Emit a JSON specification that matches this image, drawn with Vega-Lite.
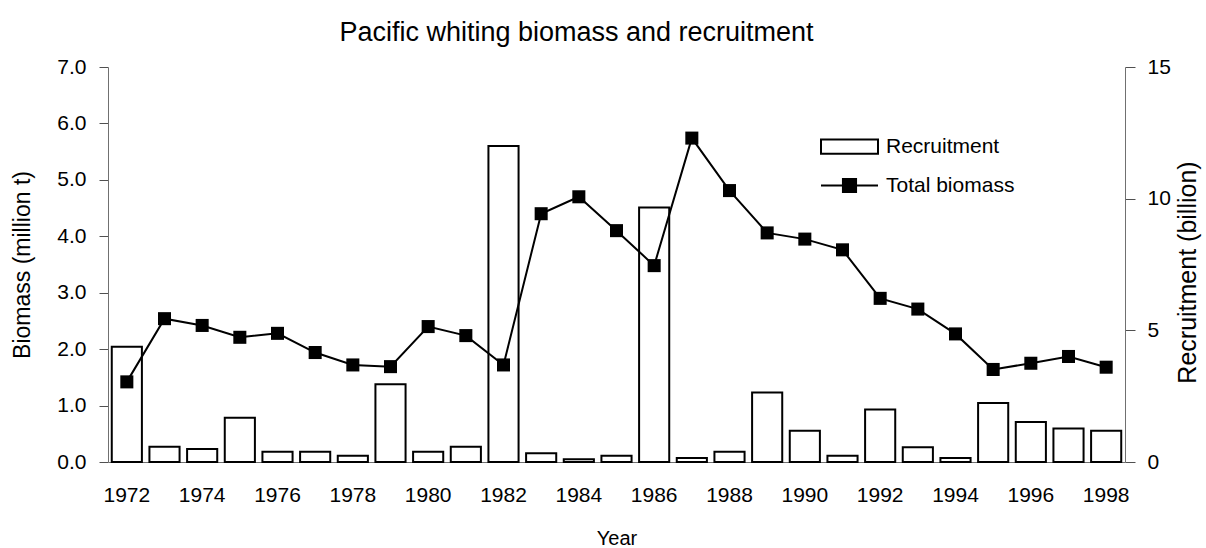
{
  "$schema": "https://vega.github.io/schema/vega-lite/v6.json",
  "autosize": "none",
  "padding": {"left": 108, "top": 67, "right": 81, "bottom": 86},
  "width": 1017,
  "height": 395,
  "background": "white",
  "title": {
    "text": "Pacific whiting biomass and recruitment",
    "font": "Liberation Sans",
    "fontSize": 27,
    "fontWeight": "normal",
    "color": "black",
    "anchor": "middle",
    "dx": -40,
    "offset": 9
  },
  "data": {
    "values": [
      {"year": 1972, "biomass": 1.42, "recruitment": 4.38},
      {"year": 1973, "biomass": 2.54, "recruitment": 0.58},
      {"year": 1974, "biomass": 2.42, "recruitment": 0.49},
      {"year": 1975, "biomass": 2.21, "recruitment": 1.68},
      {"year": 1976, "biomass": 2.28, "recruitment": 0.39},
      {"year": 1977, "biomass": 1.94, "recruitment": 0.39},
      {"year": 1978, "biomass": 1.72, "recruitment": 0.24},
      {"year": 1979, "biomass": 1.69, "recruitment": 2.95},
      {"year": 1980, "biomass": 2.40, "recruitment": 0.39},
      {"year": 1981, "biomass": 2.24, "recruitment": 0.58},
      {"year": 1982, "biomass": 1.72, "recruitment": 12.0},
      {"year": 1983, "biomass": 4.40, "recruitment": 0.33},
      {"year": 1984, "biomass": 4.70, "recruitment": 0.1},
      {"year": 1985, "biomass": 4.10, "recruitment": 0.24},
      {"year": 1986, "biomass": 3.48, "recruitment": 9.66},
      {"year": 1987, "biomass": 5.74, "recruitment": 0.15},
      {"year": 1988, "biomass": 4.81, "recruitment": 0.39},
      {"year": 1989, "biomass": 4.06, "recruitment": 2.64},
      {"year": 1990, "biomass": 3.95, "recruitment": 1.19},
      {"year": 1991, "biomass": 3.76, "recruitment": 0.24},
      {"year": 1992, "biomass": 2.90, "recruitment": 1.99},
      {"year": 1993, "biomass": 2.71, "recruitment": 0.56},
      {"year": 1994, "biomass": 2.27, "recruitment": 0.15},
      {"year": 1995, "biomass": 1.64, "recruitment": 2.24},
      {"year": 1996, "biomass": 1.75, "recruitment": 1.52},
      {"year": 1997, "biomass": 1.87, "recruitment": 1.27},
      {"year": 1998, "biomass": 1.68, "recruitment": 1.19}
    ]
  },
  "encoding": {
    "x": {
      "field": "year",
      "type": "ordinal",
      "scale": {"paddingInner": 0.2, "paddingOuter": 0.1},
      "axis": {
        "title": "Year",
        "values": [1972, 1974, 1976, 1978, 1980, 1982, 1984, 1986, 1988, 1990, 1992, 1994, 1996, 1998],
        "labelAngle": 0,
        "ticks": false,
        "tickSize": 0,
        "labelPadding": 22,
        "labelFontSize": 21,
        "titleFontSize": 20,
        "titleY": 76,
        "titleBaseline": "middle"
      }
    }
  },
  "layer": [
    {
      "mark": {"type": "bar", "stroke": "black", "strokeWidth": 2},
      "encoding": {
        "y": {
          "field": "recruitment",
          "type": "quantitative",
          "scale": {"domain": [0, 15], "nice": false, "zero": true},
          "axis": {
            "orient": "right",
            "title": "Recruitment (billion)",
            "values": [0, 5, 10, 15],
            "format": "d",
            "tickSize": 10,
            "labelPadding": 12,
            "labelFontSize": 21,
            "titleFontSize": 25,
            "titleAngle": -90,
            "titleX": 62,
            "titleY": 205,
            "titleBaseline": "middle",
            "encode": {"ticks": {"update": {"x": {"value": -10}}}}
          }
        },
        "fill": {
          "datum": "Recruitment",
          "scale": {"range": ["white"]},
          "legend": {
            "title": null,
            "orient": "none",
            "legendX": 712,
            "legendY": 50,
            "symbolType": "M-1,-0.25H1V0.25H-1Z",
            "symbolSize": 3249,
            "symbolStrokeWidth": 2,
            "symbolStrokeColor": "black",
            "symbolFillColor": "white",
            "labelFontSize": 21,
            "labelOffset": 7,
            "encode": {"symbols": {"update": {"stroke": {"value": "black"}, "strokeWidth": {"value": 2}, "fill": {"value": "white"}, "opacity": {"value": 1}}}}
          }
        }
      }
    },
    {
      "encoding": {
        "y": {
          "field": "biomass",
          "type": "quantitative",
          "scale": {"domain": [0, 7], "nice": false},
          "axis": {
            "orient": "left",
            "title": "Biomass (million t)",
            "values": [0, 1, 2, 3, 4, 5, 6, 7],
            "format": ".1f",
            "tickSize": 9,
            "labelPadding": 13,
            "labelFontSize": 21,
            "titleFontSize": 23,
            "titleX": -86,
            "titleBaseline": "middle",
            "encode": {"ticks": {"update": {"x": {"value": 8}}}}
          }
        }
      },
      "layer": [
        {
          "mark": {"type": "line", "strokeWidth": 2},
          "encoding": {
            "stroke": {
              "datum": "Total biomass",
              "scale": {"range": ["black"]},
              "legend": {
                "title": null,
                "orient": "none",
                "legendX": 712,
                "legendY": 89,
                "symbolType": "M-1,0H1M-0.23,-0.23H0.23V0.23H-0.23Z",
                "symbolSize": 3249,
                "symbolStrokeWidth": 2,
                "symbolStrokeColor": "black",
                "symbolFillColor": "black",
                "labelFontSize": 21,
                "labelOffset": 7,
                "encode": {"symbols": {"update": {"stroke": {"value": "black"}, "strokeWidth": {"value": 2}, "fill": {"value": "black"}, "opacity": {"value": 1}}}}
              }
            }
          }
        },
        {
          "mark": {"type": "square", "size": 170, "color": "black", "opacity": 1}
        }
      ]
    }
  ],
  "resolve": {"scale": {"y": "independent"}},
  "config": {
    "font": "Liberation Sans",
    "view": {"stroke": null},
    "axis": {
      "grid": false,
      "domainColor": "#707070",
      "tickColor": "#505050",
      "domainWidth": 1,
      "tickWidth": 1,
      "labelColor": "black",
      "titleColor": "black",
      "titleFontWeight": "normal",
      "labelFont": "Liberation Sans",
      "titleFont": "Liberation Sans"
    },
    "legend": {"labelColor": "black", "labelFont": "Liberation Sans"}
  }
}
